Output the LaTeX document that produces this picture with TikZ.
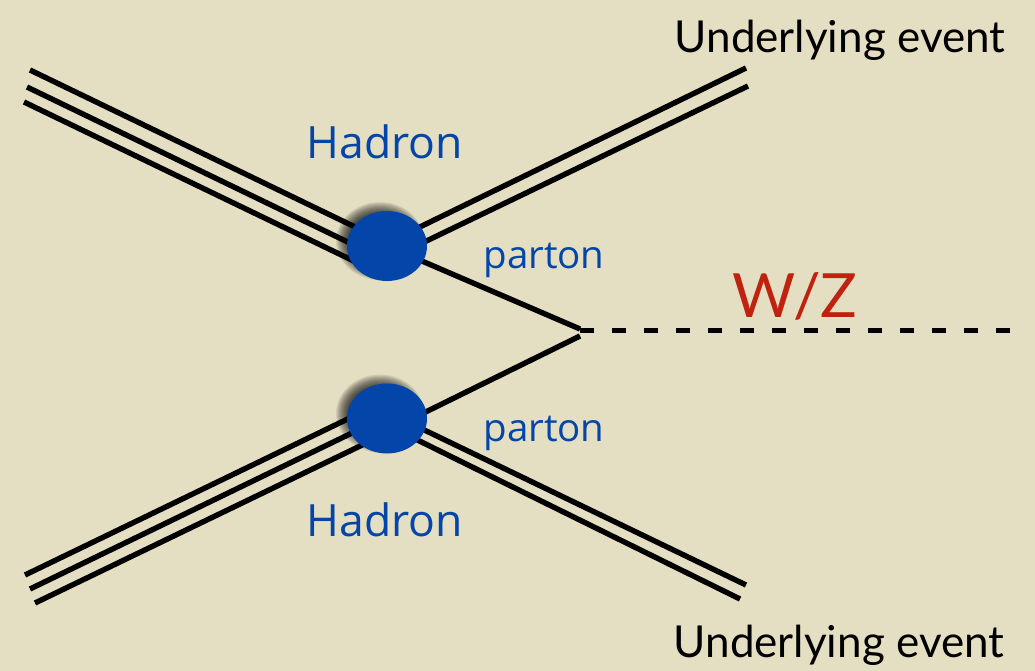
\documentclass[tikz,border=0pt]{standalone}
\usepackage{fontspec}
\setmainfont{Lato}
\newfontfamily\labelfont{Open Sans}
\usetikzlibrary{shapes.geometric,calc}
\pgfdeclarelayer{paperlayer}
\pgfdeclarelayer{background}
\pgfsetlayers{paperlayer,background,main}

\definecolor{paper}{RGB}{228,222,194}
\definecolor{hadronblue}{RGB}{4,69,170}
\definecolor{bosonred}{RGB}{192,34,16}

\tikzset{
  leg/.style={line width=5.4pt, black},
  blob/.style={ellipse, fill=hadronblue, inner sep=0pt,
    minimum width=80pt, minimum height=70pt},
  boson/.style={line width=5pt, black, dash pattern=on 14pt off 18pt},
  bluelabel/.style={text=hadronblue, inner sep=0pt, anchor=base},
  uelabel/.style={text=black, inner sep=0pt, anchor=base, font=\fontsize{44}{50}\selectfont},
}

% soft shadow: stacked translucent ellipses, offset up and left
\newcommand{\blobshadow}[1]{%
  \foreach \k in {0,...,14}{%
    \fill[black, opacity=0.08]
      ($(#1)+(-7,-5)$) ellipse [x radius={30+\k}, y radius={25+\k}];
  }%
}

\begin{document}
\begin{tikzpicture}[x=1pt,y=-1pt]
  % canvas
  \begin{pgfonlayer}{paperlayer}
    \fill[paper] (0,0) rectangle (1035,671);
  \end{pgfonlayer}
  \useasboundingbox (0,0) rectangle (1035,671);

  % blob centres
  \coordinate (cu) at (387,246);
  \coordinate (cd) at (387,418.5);
  \blobshadow{cu}
  \blobshadow{cd}

  % hadron blobs
  \node[blob] (hu) at (cu) {};
  \node[blob] (hd) at (cd) {};

  % outer ends of the hadron and remnant lines
  \coordinate (ul1) at (30,70);
  \coordinate (ul2) at (27,87);
  \coordinate (ul3) at (24,102);
  \coordinate (ur1) at (746,68);
  \coordinate (ur2) at (748,86);
  \coordinate (dl1) at (25,575);
  \coordinate (dl2) at (30,589);
  \coordinate (dl3) at (35,603);
  \coordinate (dr1) at (746,585);
  \coordinate (dr2) at (740,599);
  \coordinate (vtx) at (580,330);
  \coordinate (wend) at (1010,330);

  \begin{pgfonlayer}{background}
    % incoming hadrons (triple lines)
    \draw[leg] (ul1) -- ($(hu)+(0,-3.6)$);
    \draw[leg] (ul2) -- ($(hu)+(0,15)$);
    \draw[leg] (ul3) -- ($(hu)+(0,31)$);
    \draw[leg] (dl1) -- ($(hd)+(0,-18.5)$);
    \draw[leg] (dl2) -- ($(hd)+(0,-2.5)$);
    \draw[leg] (dl3) -- ($(hd)+(0,14.5)$);
    % hadron remnants (double lines)
    \draw[leg] ($(hu)+(0,-3)$) -- (ur1);
    \draw[leg] ($(hu)+(0,14)$) -- (ur2);
    \draw[leg] ($(hd)+(0,-6.5)$) -- (dr1);
    \draw[leg] ($(hd)+(0,6.5)$) -- (dr2);
    % partons meeting at the vertex
    \draw[leg] (hu.center) -- ($(vtx)+(0,-1)$);
    \draw[leg] ($(hd)+(0,12.5)$) -- ($(vtx)+(0,6)$);
  \end{pgfonlayer}

  % produced boson
  \draw[boson] (vtx) -- (wend);

  % labels
  \node[bluelabel, font=\labelfont\fontsize{44.5}{50}\selectfont] (hlu) at (385,159) {Hadron};
  \node[bluelabel, font=\labelfont\fontsize{38.5}{44}\selectfont] (plu) at (544,268) {parton};
  \node[bluelabel, font=\labelfont\fontsize{38.5}{44}\selectfont] (pld) at (544,441) {parton};
  \node[bluelabel, font=\labelfont\fontsize{44.5}{50}\selectfont] (hld) at (385,536) {Hadron};
  \node[inner sep=0pt, anchor=base, text=bosonred, font=\fontsize{61}{66}\selectfont] (wz) at (795,317) {W/Z};
  \node[uelabel] (ueu) at (840,53) {Underlying event};
  \node[uelabel] (ued) at (839,657) {Underlying event};
\end{tikzpicture}
\end{document}
